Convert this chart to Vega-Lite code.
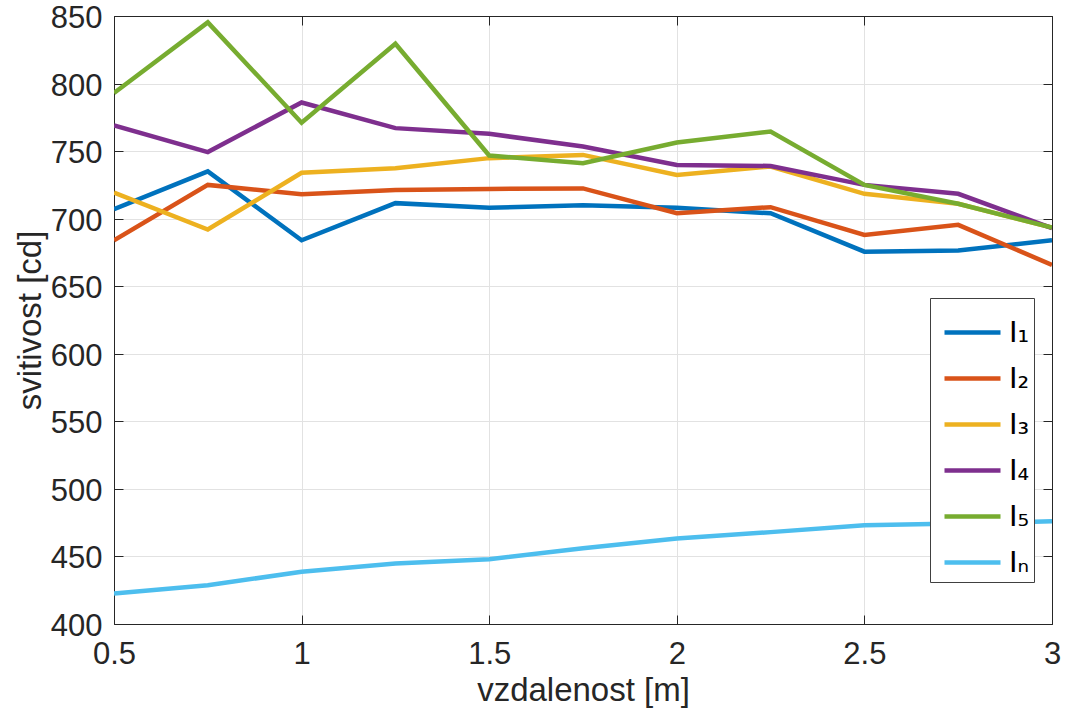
{
 "$schema": "https://vega.github.io/schema/vega-lite/v6.json",
 "width": 938, "height": 608,
 "autosize": "none",
 "padding": {"left": 114, "top": 16, "right": 13, "bottom": 91},
 "background": "white",
 "config": {
  "view": {"stroke": "#262626", "strokeWidth": 1},
  "axis": {
   "labelFont": "Liberation Sans", "titleFont": "Liberation Sans",
   "labelFontSize": 31, "titleFontSize": 33, "titleFontWeight": "normal",
   "labelColor": "#262626", "titleColor": "#262626",
   "domainColor": "#262626", "tickColor": "#262626", "tickSize": -9,
   "gridColor": "#e2e2e2", "gridWidth": 1
  }
 },
 "data": {"values": [
  {"x":0.5,"v":707,"s":"I₁"},{"x":0.75,"v":735,"s":"I₁"},{"x":1,"v":684,"s":"I₁"},{"x":1.25,"v":711.5,"s":"I₁"},{"x":1.5,"v":708,"s":"I₁"},{"x":1.75,"v":710,"s":"I₁"},{"x":2,"v":708,"s":"I₁"},{"x":2.25,"v":704,"s":"I₁"},{"x":2.5,"v":675.6,"s":"I₁"},{"x":2.75,"v":676.4,"s":"I₁"},{"x":3,"v":684,"s":"I₁"},
  {"x":0.5,"v":684,"s":"I₂"},{"x":0.75,"v":725,"s":"I₂"},{"x":1,"v":718,"s":"I₂"},{"x":1.25,"v":721.3,"s":"I₂"},{"x":1.5,"v":722,"s":"I₂"},{"x":1.75,"v":722.4,"s":"I₂"},{"x":2,"v":704,"s":"I₂"},{"x":2.25,"v":708.5,"s":"I₂"},{"x":2.5,"v":688,"s":"I₂"},{"x":2.75,"v":695.4,"s":"I₂"},{"x":3,"v":665.8,"s":"I₂"},
  {"x":0.5,"v":719.3,"s":"I₃"},{"x":0.75,"v":692,"s":"I₃"},{"x":1,"v":734,"s":"I₃"},{"x":1.25,"v":737.4,"s":"I₃"},{"x":1.5,"v":744.8,"s":"I₃"},{"x":1.75,"v":747.2,"s":"I₃"},{"x":2,"v":732.4,"s":"I₃"},{"x":2.25,"v":738.6,"s":"I₃"},{"x":2.5,"v":718.4,"s":"I₃"},{"x":2.75,"v":711,"s":"I₃"},{"x":3,"v":693.4,"s":"I₃"},
  {"x":0.5,"v":769,"s":"I₄"},{"x":0.75,"v":749.3,"s":"I₄"},{"x":1,"v":786,"s":"I₄"},{"x":1.25,"v":767,"s":"I₄"},{"x":1.5,"v":762.8,"s":"I₄"},{"x":1.75,"v":753.4,"s":"I₄"},{"x":2,"v":739.8,"s":"I₄"},{"x":2.25,"v":739,"s":"I₄"},{"x":2.5,"v":725,"s":"I₄"},{"x":2.75,"v":718.4,"s":"I₄"},{"x":3,"v":693,"s":"I₄"},
  {"x":0.5,"v":793,"s":"I₅"},{"x":0.75,"v":845.3,"s":"I₅"},{"x":1,"v":771,"s":"I₅"},{"x":1.25,"v":829.5,"s":"I₅"},{"x":1.5,"v":746.7,"s":"I₅"},{"x":1.75,"v":741,"s":"I₅"},{"x":2,"v":756.4,"s":"I₅"},{"x":2.25,"v":764.5,"s":"I₅"},{"x":2.5,"v":725,"s":"I₅"},{"x":2.75,"v":711,"s":"I₅"},{"x":3,"v":693.4,"s":"I₅"},
  {"x":0.5,"v":422.6,"s":"Iₙ"},{"x":0.75,"v":428.7,"s":"Iₙ"},{"x":1,"v":438.6,"s":"Iₙ"},{"x":1.25,"v":444.8,"s":"Iₙ"},{"x":1.5,"v":448,"s":"Iₙ"},{"x":1.75,"v":456,"s":"Iₙ"},{"x":2,"v":463.3,"s":"Iₙ"},{"x":2.25,"v":468,"s":"Iₙ"},{"x":2.5,"v":473,"s":"Iₙ"},{"x":2.75,"v":474.4,"s":"Iₙ"},{"x":3,"v":476,"s":"Iₙ"}
 ]},
 "layer": [
  {
   "mark": {"type": "line", "strokeWidth": 4.5, "clip": true},
   "encoding": {
    "x": {"field": "x", "type": "quantitative", "scale": {"domain": [0.5, 3], "nice": false},
          "axis": {"values": [0.5, 1, 1.5, 2, 2.5, 3], "format": "~g", "title": "vzdalenost [m]", "labelFlush": false, "labelPadding": 24, "titlePadding": 5}},
    "y": {"field": "v", "type": "quantitative", "scale": {"domain": [400, 850], "nice": false},
          "axis": {"values": [400,450,500,550,600,650,700,750,800,850], "title": "svitivost [cd]", "labelPadding": 21, "labelOffset": 2.5, "titlePadding": 3}},
    "color": {"field": "s", "type": "nominal",
              "scale": {"domain": ["I₁","I₂","I₃","I₄","I₅","Iₙ"], "range": ["#0072BD","#D95319","#EDB120","#7E2F8E","#77AC30","#4DBEEE"]},
              "legend": {"title": null, "orient": "none", "legendX": 816, "legendY": 282,
                         "strokeColor": "#404040", "fillColor": "white", "padding": 4,
                         "symbolType": "stroke", "symbolStrokeWidth": 4.5, "symbolSize": 3136, "symbolOffset": 8,
                         "labelFont": "DejaVu Sans", "labelFontSize": 29, "labelColor": "#000000",
                         "labelOffset": 6, "rowPadding": 0}}
   }
  },
  {
   "mark": {"type": "line", "opacity": 0},
   "encoding": {
    "x": {"field": "x", "type": "quantitative", "axis": {"orient": "top", "values": [0.5, 1, 1.5, 2, 2.5, 3], "labels": false, "grid": false, "title": null}},
    "y": {"field": "v", "type": "quantitative", "axis": {"orient": "right", "values": [400,450,500,550,600,650,700,750,800,850], "labels": false, "grid": false, "title": null}},
    "detail": {"field": "s"}
   }
  }
 ],
 "resolve": {"axis": {"x": "independent", "y": "independent"}}
}
